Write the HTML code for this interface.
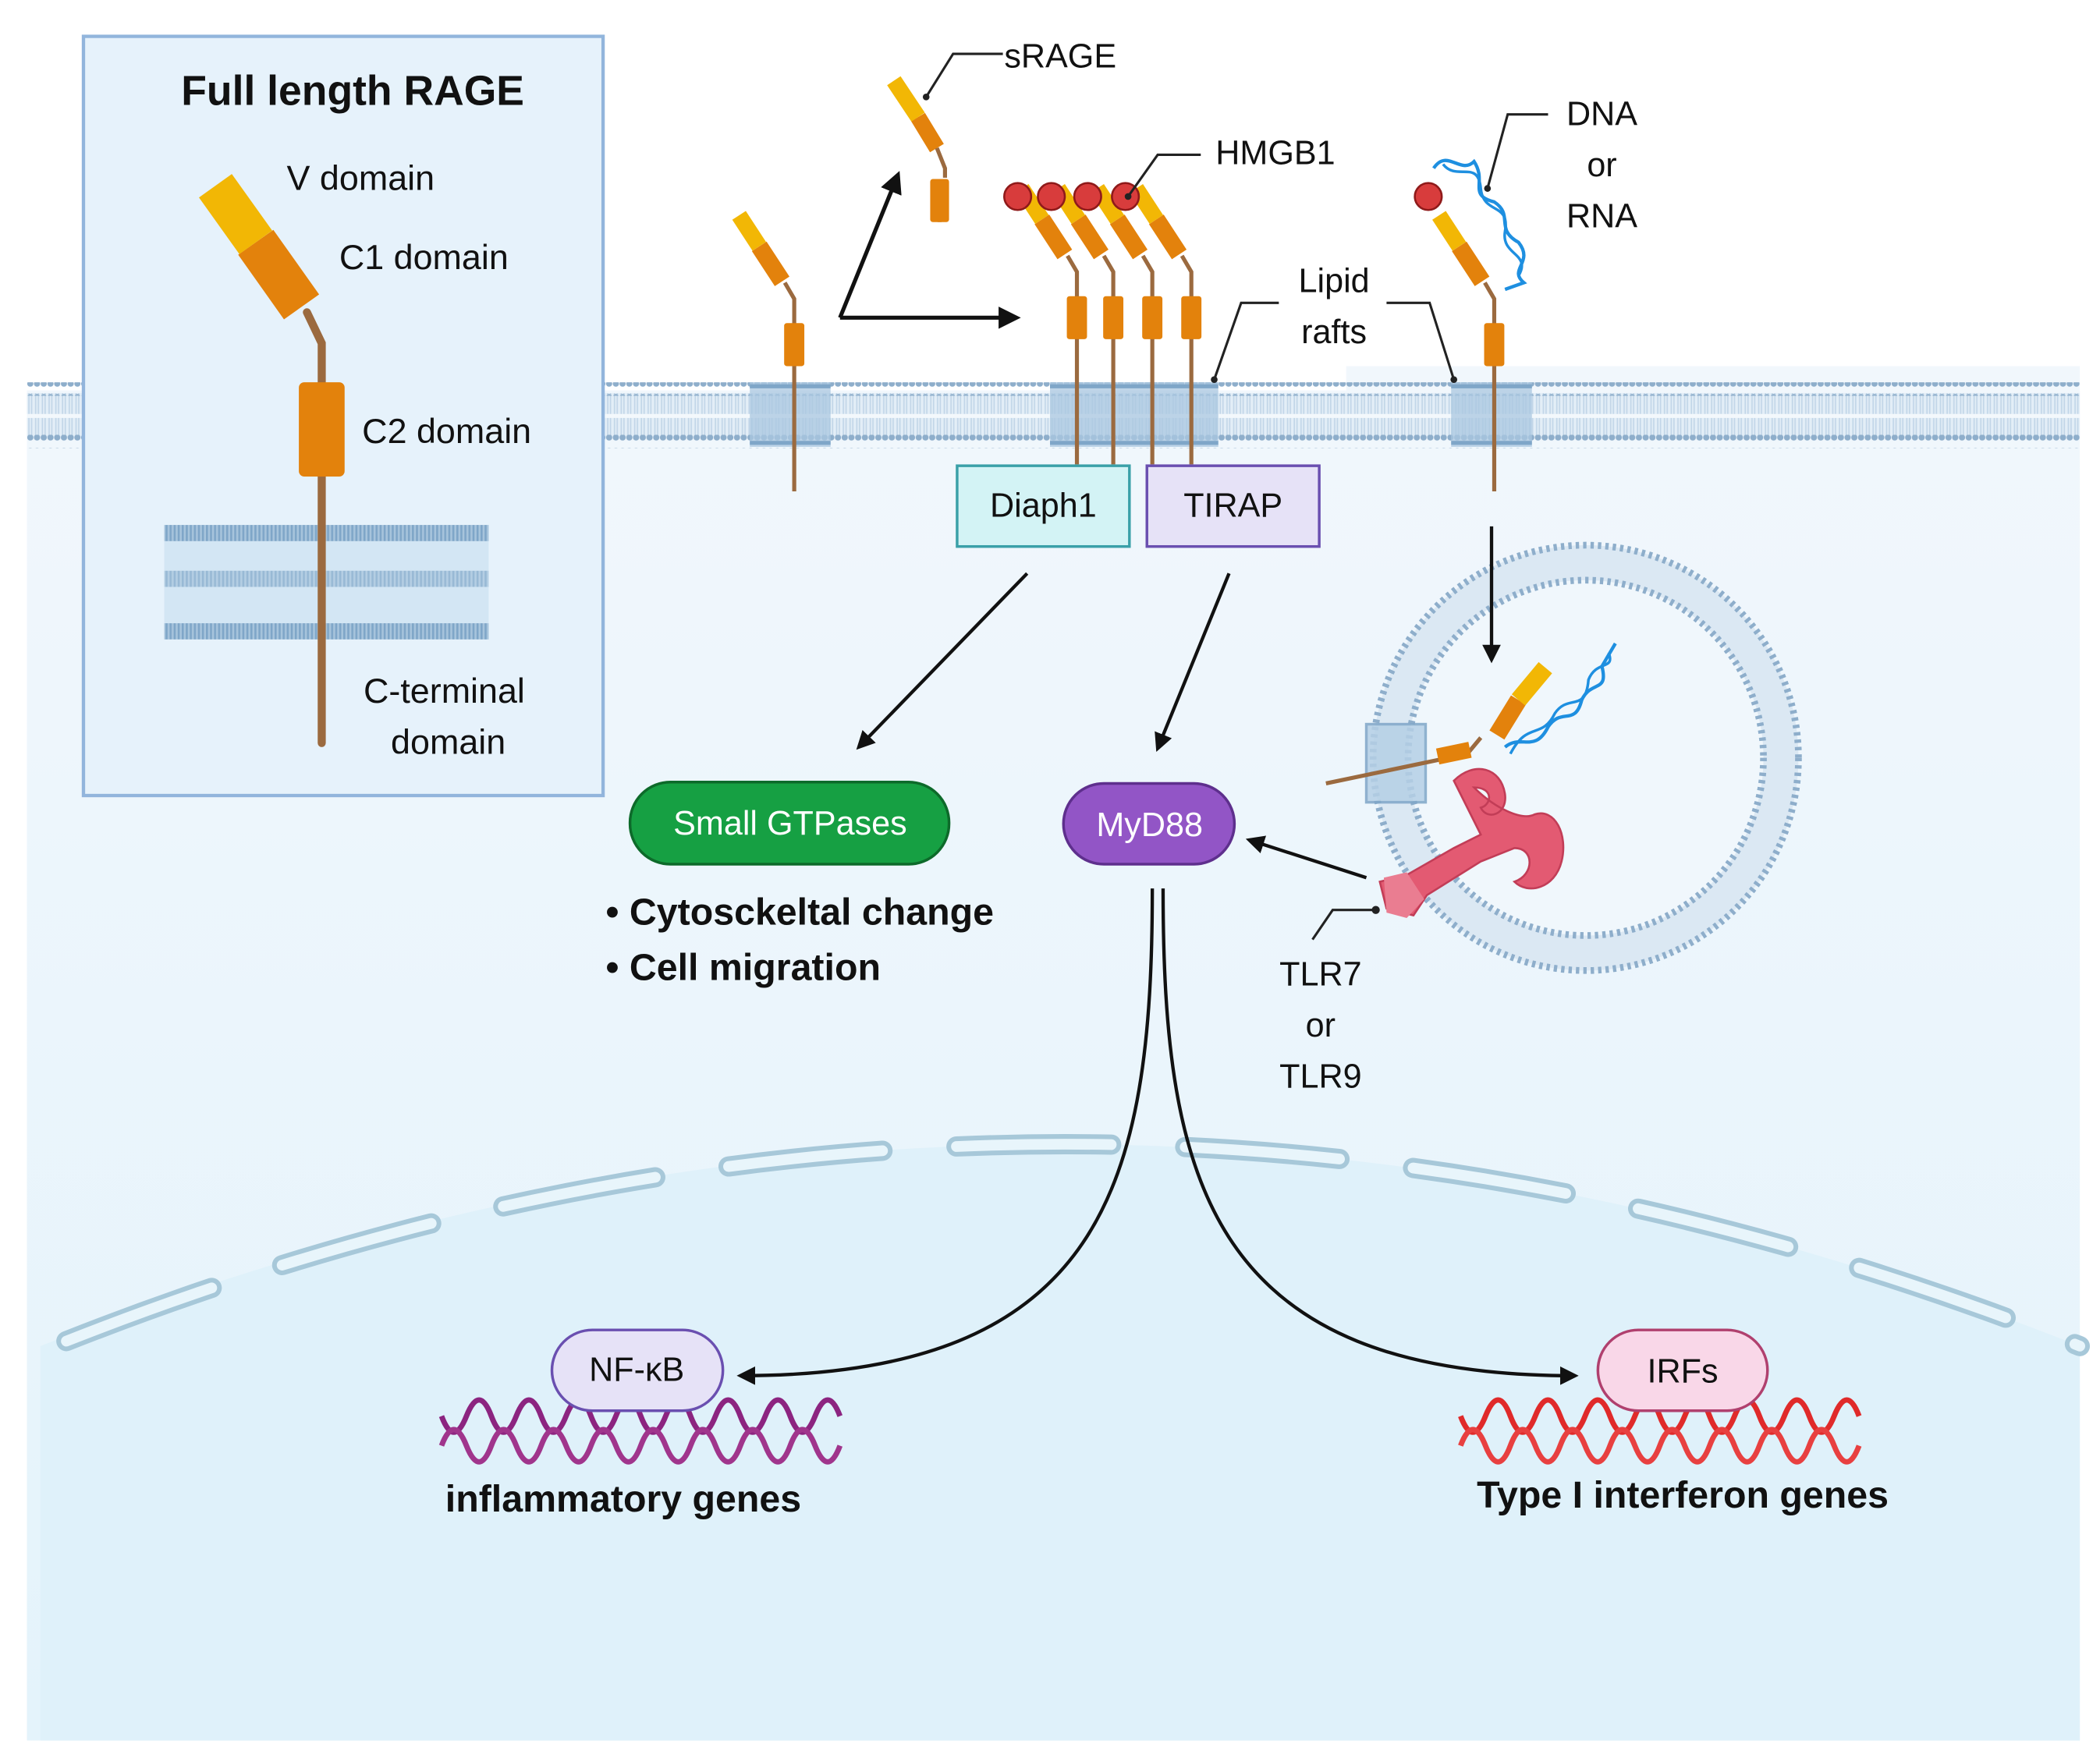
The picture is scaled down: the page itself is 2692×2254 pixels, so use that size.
<!DOCTYPE html>
<html><head><meta charset="utf-8"><style>html,body{margin:0;padding:0;background:#fff}svg{display:block}text{font-family:"Liberation Sans",sans-serif}</style></head><body>
<svg width="2692" height="2254" viewBox="0 0 1560 1306" preserveAspectRatio="none" xmlns="http://www.w3.org/2000/svg">
<defs>
<linearGradient id="cyt" x1="0" y1="0" x2="0" y2="1"><stop offset="0" stop-color="#f1f7fc"/><stop offset="1" stop-color="#e4f3fb"/></linearGradient>
<pattern id="heads" width="5" height="10" patternUnits="userSpaceOnUse"><circle cx="2.5" cy="5" r="2.3" fill="#8eaecb"/></pattern>
<pattern id="tails" width="5" height="30" patternUnits="userSpaceOnUse"><rect width="5" height="30" fill="#e3eef7"/><line x1="1.5" y1="0" x2="1.5" y2="30" stroke="#c2d6e8" stroke-width="1"/><line x1="3.5" y1="0" x2="3.5" y2="30" stroke="#c2d6e8" stroke-width="1"/></pattern>
<pattern id="bil" width="3" height="12" patternUnits="userSpaceOnUse"><rect width="3" height="12" fill="#7fa6c8"/><rect x="1.5" width="1.5" height="12" fill="#a7c4dc"/></pattern>
<marker id="ah" viewBox="0 0 10 10" refX="8" refY="5" markerWidth="5.5" markerHeight="5.5" orient="auto"><path d="M0,0 L10,5 L0,10 z" fill="#111"/></marker>
<g id="rec">
<path d="M0,55 L0,-88 L-7,-100" stroke="#9b6a3f" stroke-width="3" fill="none"/>
<rect x="-7.5" y="-70" width="15" height="32" rx="2" fill="#e3820c"/>
<line x1="-9" y1="-101" x2="-26" y2="-127" stroke="#e3820c" stroke-width="13"/>
<path d="M-26,-127 L-41,-150" stroke="#f2b705" stroke-width="12"/>
</g>
</defs>
<rect width="1560" height="1306" fill="#fff"/>
<rect x="20" y="290" width="1525" height="1003" fill="url(#cyt)"/>
<rect x="1000" y="272" width="545" height="20" fill="#f1f7fc"/>
<path d="M30,1000 Q790,700 1545,1000 L1545,1293 L30,1293 Z" fill="#dff1fa"/>
<path d="M40,1000 Q790,700 1545,1000" fill="none" stroke="#a7c8d9" stroke-width="15" stroke-linecap="round" stroke-dasharray="115 55" stroke-dashoffset="-10"/>
<path d="M40,1000 Q790,700 1545,1000" fill="none" stroke="#e8f5fb" stroke-width="8" stroke-linecap="round" stroke-dasharray="115 55" stroke-dashoffset="-10"/>
<!-- membrane -->
<rect x="20" y="292" width="1525" height="33" fill="url(#tails)"/>
<rect x="20" y="284" width="1525" height="10" fill="url(#heads)"/>
<rect x="20" y="323" width="1525" height="10" fill="url(#heads)"/>
<line x1="20" y1="309" x2="1545" y2="309" stroke="#f3f8fc" stroke-width="3"/>
<g fill="#a9c7e0" opacity="0.75"><rect x="557" y="284" width="60" height="48"/><rect x="780" y="284" width="125" height="48"/><rect x="1078" y="284" width="60" height="48"/></g>
<g stroke="#7fa6c8" stroke-width="3"><line x1="557" y1="287" x2="617" y2="287"/><line x1="557" y1="329" x2="617" y2="329"/><line x1="780" y1="287" x2="905" y2="287"/><line x1="780" y1="329" x2="905" y2="329"/><line x1="1078" y1="287" x2="1138" y2="287"/><line x1="1078" y1="329" x2="1138" y2="329"/></g>
<!-- inset box -->
<rect x="62" y="27" width="386" height="564" fill="#e6f2fb" stroke="#92b5dc" stroke-width="2.5"/>
<rect x="122" y="390" width="241" height="85" fill="#d3e6f4"/>
<rect x="122" y="390" width="241" height="12" fill="url(#bil)"/>
<rect x="122" y="424" width="241" height="12" fill="url(#bil)" opacity=".7"/>
<rect x="122" y="463" width="241" height="12" fill="url(#bil)"/>
<path d="M239,552 L239,255 L228,232" stroke="#9b6a3f" stroke-width="6" fill="none" stroke-linecap="round"/>
<rect x="222" y="284" width="34" height="70" rx="4" fill="#e3820c"/>
<line x1="224" y1="228" x2="190" y2="180" stroke="#e3820c" stroke-width="32"/>
<path d="M190,180 L160,138" stroke="#f2b705" stroke-width="30"/>
<path d="M140,124 L150,112 L160,128 L170,110 L172,128" fill="#e6f2fb"/>
<text x="262" y="78" font-size="31" font-weight="bold" text-anchor="middle" fill="#111">Full length RAGE</text>
<g font-size="26" fill="#111"><text x="213" y="141">V domain</text><text x="252" y="200">C1 domain</text><text x="269" y="329">C2 domain</text><text x="330" y="522" text-anchor="middle">C-terminal</text><text x="333" y="560" text-anchor="middle">domain</text></g>
<use href="#rec" x="590" y="310"/>
<g transform="translate(698,165)"><line x1="0" y1="0" x2="0" y2="-25" stroke="#9b6a3f" stroke-width="3"/><rect x="-7" y="-32" width="14" height="32" rx="2" fill="#e3820c"/><line x1="-2" y1="-55" x2="-16" y2="-78" stroke="#e3820c" stroke-width="12"/><line x1="-16" y1="-78" x2="-34" y2="-105" stroke="#f2b705" stroke-width="12"/><path d="M-2,-55 L4,-40 L4,-33" stroke="#9b6a3f" stroke-width="3" fill="none"/></g>
<use href="#rec" x="800" y="290"/><use href="#rec" x="827" y="290"/><use href="#rec" x="856" y="290"/><use href="#rec" x="885" y="290"/>
<use href="#rec" x="1110" y="310"/>
<g fill="#d83c3c" stroke="#8f1a1a" stroke-width="1.5"><circle cx="756" cy="146" r="10"/><circle cx="781" cy="146" r="10"/><circle cx="808" cy="146" r="10"/><circle cx="836" cy="146" r="10"/><circle cx="1061" cy="146" r="10"/><circle cx="1160" cy="484" r="10"/></g>
<path d="M1065,125 C1075,110 1085,130 1095,120 C1105,135 1090,145 1110,150 C1125,160 1110,170 1128,180 C1140,195 1120,200 1132,210 L1118,215" fill="none" stroke="#1e8fe0" stroke-width="2.5"/>
<path d="M1072,122 C1082,135 1098,118 1100,140 C1102,160 1122,150 1118,172 C1115,190 1138,188 1128,205" fill="none" stroke="#1e8fe0" stroke-width="2"/>
<path d="M624,236 L667,130" stroke="#111" stroke-width="3" fill="none" marker-end="url(#ah)"/>
<path d="M624,236 L755,236" stroke="#111" stroke-width="3" fill="none" marker-end="url(#ah)"/>
<g fill="none" stroke="#222" stroke-width="1.8"><path d="M688,72 L708,40 L745,40"/><path d="M838,146 L860,115 L892,115"/><path d="M1105,140 L1120,85 L1150,85"/><path d="M902,282 L922,225 L950,225"/><path d="M1080,282 L1062,225 L1030,225"/><path d="M1022,676 L990,676 L975,698"/></g>
<g fill="#222"><circle cx="688" cy="72" r="2.5"/><circle cx="838" cy="146" r="2.5"/><circle cx="1105" cy="140" r="2.5"/><circle cx="902" cy="282" r="2.5"/><circle cx="1080" cy="282" r="2.5"/><circle cx="1022" cy="676" r="3"/></g>
<g font-size="25" fill="#111"><text x="746" y="50">sRAGE</text><text x="903" y="122">HMGB1</text><text x="1190" y="93" text-anchor="middle">DNA</text><text x="1190" y="131" text-anchor="middle">or</text><text x="1190" y="169" text-anchor="middle">RNA</text><text x="991" y="217" text-anchor="middle">Lipid</text><text x="991" y="255" text-anchor="middle">rafts</text><text x="981" y="732" text-anchor="middle">TLR7</text><text x="981" y="770" text-anchor="middle">or</text><text x="981" y="808" text-anchor="middle">TLR9</text></g>
<rect x="711" y="346" width="128" height="60" fill="#d3f3f5" stroke="#3aa0a8" stroke-width="2"/>
<text x="775" y="384" font-size="25" text-anchor="middle" fill="#111">Diaph1</text>
<rect x="852" y="346" width="128" height="60" fill="#e6e2f7" stroke="#6a4fb0" stroke-width="2"/>
<text x="916" y="384" font-size="25" text-anchor="middle" fill="#111">TIRAP</text>
<path d="M763,426 L638,555" stroke="#111" stroke-width="2.5" marker-end="url(#ah)"/>
<path d="M913,426 L860,556" stroke="#111" stroke-width="2.5" marker-end="url(#ah)"/>
<rect x="468" y="581" width="237" height="61" rx="30" fill="#16a043" stroke="#0d6a2a" stroke-width="2"/>
<text x="587" y="620" font-size="25" text-anchor="middle" fill="#fff">Small GTPases</text>
<rect x="790" y="582" width="127" height="60" rx="30" fill="#9255c6" stroke="#5e2f8d" stroke-width="2"/>
<text x="854" y="621" font-size="25" text-anchor="middle" fill="#fff">MyD88</text>
<g font-size="28" font-weight="bold" fill="#111"><text x="450" y="687">• Cytosckeltal change</text><text x="450" y="728">• Cell migration</text></g>
<!-- endosome -->
<circle cx="1178" cy="563" r="145" fill="#f0f7fc" stroke="#dbe8f3" stroke-width="26"/>
<circle cx="1178" cy="563" r="158" fill="none" stroke="#8eaecb" stroke-width="5" stroke-dasharray="2.5 3"/>
<circle cx="1178" cy="563" r="132" fill="none" stroke="#8eaecb" stroke-width="5" stroke-dasharray="2.5 3"/>
<rect x="1015" y="538" width="44" height="58" fill="#b5d0e6" opacity=".85" stroke="#7fa6c8" stroke-width="2"/>
<path d="M1108,391 L1108,490" stroke="#111" stroke-width="2.5" marker-end="url(#ah)"/>
<path d="M985,582 L1090,560 L1100,548" stroke="#9b6a3f" stroke-width="3" fill="none"/>
<line x1="1068" y1="562" x2="1092" y2="557" stroke="#e3820c" stroke-width="12"/>
<line x1="1112" y1="546" x2="1128" y2="520" stroke="#e3820c" stroke-width="13"/>
<line x1="1128" y1="520" x2="1148" y2="496" stroke="#f2b705" stroke-width="13"/>
<path d="M1118,555 C1130,545 1140,560 1150,540 C1160,525 1170,540 1175,520 C1182,505 1195,515 1190,495 L1200,478" fill="none" stroke="#1e8fe0" stroke-width="2.5"/>
<path d="M1122,560 C1135,535 1145,550 1155,530 C1165,515 1178,530 1180,505 C1186,490 1200,498 1195,485" fill="none" stroke="#1e8fe0" stroke-width="2"/>
<path d="M1080,580 C1095,565 1115,570 1118,590 C1120,605 1105,610 1100,600 C1108,598 1110,585 1095,585 C1110,600 1130,610 1140,605 C1155,600 1165,620 1160,640 C1155,660 1135,665 1125,655 C1140,650 1140,630 1125,630 L1100,640 L1060,665 L1050,680 L1030,675 L1025,655 L1045,650 L1080,630 L1100,620 Z" fill="#e35a72" stroke="#c23d57" stroke-width="1.5"/>
<path d="M1028,652 L1045,648 L1058,668 L1045,682 L1030,678 Z" fill="#ea7d91"/>
<path d="M1015,652 L928,624" stroke="#111" stroke-width="2.5" marker-end="url(#ah)"/>
<path d="M856,660 C856,880 820,1022 550,1022" fill="none" stroke="#111" stroke-width="2.5" marker-end="url(#ah)"/>
<path d="M864,660 C864,880 900,1022 1170,1022" fill="none" stroke="#111" stroke-width="2.5" marker-end="url(#ah)"/>
<!-- DNA helices -->
<g fill="none" stroke-width="4">
<path d="M328,1052 q9,24 18.5,0 t18.5,0 t18.5,0 t18.5,0 t18.5,0 t18.5,0 t18.5,0 t18.5,0 t18.5,0 t18.5,0 t18.5,0 t18.5,0 t18.5,0 t18.5,0 t18.5,0 t18.5,0" stroke="#8c2480"/>
<path d="M328,1074 q9,-24 18.5,0 t18.5,0 t18.5,0 t18.5,0 t18.5,0 t18.5,0 t18.5,0 t18.5,0 t18.5,0 t18.5,0 t18.5,0 t18.5,0 t18.5,0 t18.5,0 t18.5,0 t18.5,0" stroke="#a0358c"/>
<path d="M1085,1052 q9,24 18.5,0 t18.5,0 t18.5,0 t18.5,0 t18.5,0 t18.5,0 t18.5,0 t18.5,0 t18.5,0 t18.5,0 t18.5,0 t18.5,0 t18.5,0 t18.5,0 t18.5,0 t18.5,0" stroke="#e02a2a"/>
<path d="M1085,1074 q9,-24 18.5,0 t18.5,0 t18.5,0 t18.5,0 t18.5,0 t18.5,0 t18.5,0 t18.5,0 t18.5,0 t18.5,0 t18.5,0 t18.5,0 t18.5,0 t18.5,0 t18.5,0 t18.5,0" stroke="#e84040"/>
</g>
<rect x="410" y="988" width="127" height="60" rx="30" fill="#e6e2f7" stroke="#6a4fb0" stroke-width="2"/>
<text x="473" y="1026" font-size="25" text-anchor="middle" fill="#111">NF-κB</text>
<rect x="1187" y="988" width="126" height="60" rx="30" fill="#f9d7e8" stroke="#b0406e" stroke-width="2"/>
<text x="1250" y="1027" font-size="25" text-anchor="middle" fill="#111">IRFs</text>
<g font-size="28" font-weight="bold" fill="#111"><text x="463" y="1123" text-anchor="middle">inflammatory genes</text><text x="1250" y="1120" text-anchor="middle">Type I interferon  genes</text></g>
</svg>
</body></html>
